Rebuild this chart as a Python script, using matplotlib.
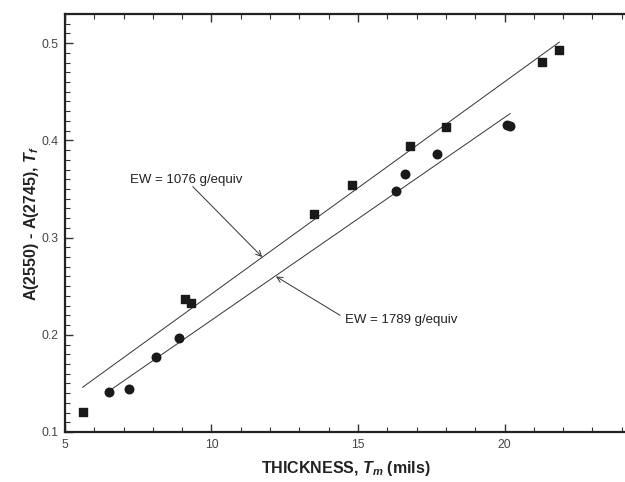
import matplotlib
matplotlib.use("Agg")
import matplotlib.pyplot as plt
from matplotlib.ticker import MultipleLocator

plt.rcParams["font.family"] = ["Liberation Sans", "DejaVu Sans"]
plt.rcParams["mathtext.fontset"] = "custom"
plt.rcParams["mathtext.it"] = "Liberation Sans:bold:italic"
plt.rcParams["mathtext.rm"] = "Liberation Sans:bold"

# ── data ──────────────────────────────────────────────────────────────────────
sq_x = [5.6, 9.1, 9.29, 13.5, 14.8, 16.78, 17.99, 21.28, 21.87]
sq_y = [0.121, 0.237, 0.233, 0.324, 0.354, 0.394, 0.414, 0.481, 0.493]

ci_x = [6.51, 7.19, 8.1, 8.9, 16.28, 16.59, 17.68, 20.1, 20.2]
ci_y = [0.141, 0.144, 0.177, 0.197, 0.348, 0.365, 0.386, 0.416, 0.415]

# fitted lines (end points)
fit1_x = [5.6, 21.87]
fit1_y = [0.146, 0.501]
fit2_x = [6.59, 20.19]
fit2_y = [0.144, 0.4275]

lab1 = "EW = 1076 g/equiv"
lab2 = "EW = 1789 g/equiv"

# ── figure ────────────────────────────────────────────────────────────────────
fig = plt.figure(figsize=(6.25, 4.82), dpi=100, facecolor="white")
ax = fig.add_axes([65 / 625, 50 / 482, 561 / 625, 418 / 482])

ax.plot(fit1_x, fit1_y, color="#333333", lw=0.7)
ax.plot(fit2_x, fit2_y, color="#333333", lw=0.7)
ax.scatter(sq_x, sq_y, marker="s", s=30, color="#1a1a1a", zorder=3)
ax.scatter(ci_x, ci_y, marker="o", s=38, color="#1a1a1a", zorder=3)

arrow = dict(arrowstyle="->", color="#333333", lw=0.7, shrinkA=0, shrinkB=0)
ax.annotate("", xy=(11.73, 0.280), xytext=(9.36, 0.3525), arrowprops=arrow)
ax.text(7.22, 0.359, lab1, fontsize=9.5, color="#222222", va="center", ha="left")
ax.annotate("", xy=(12.2, 0.260), xytext=(14.39, 0.220), arrowprops=arrow)
ax.text(14.56, 0.2155, lab2, fontsize=9.5, color="#222222", va="center", ha="left")

ax.set_xlim(5, 5 + 561 / 29.3)
ax.set_ylim(0.1, 0.53)
ax.xaxis.set_minor_locator(MultipleLocator(1))
ax.yaxis.set_minor_locator(MultipleLocator(0.01))
ax.set_xticks([5, 10, 15, 20])
ax.set_xticklabels(["5", "10", "15", "20"])
ax.set_yticks([0.1, 0.2, 0.3, 0.4, 0.5])
ax.set_yticklabels(["0.1", "0.2", "0.3", "0.4", "0.5"])

ax.tick_params(which="both", direction="in", top=True, right=False,
               labelsize=8.8, labelcolor="#444444", color="#333333")
ax.tick_params(which="major", length=6, width=1.0, pad=5)
ax.tick_params(which="minor", length=3.5, width=0.8)
for side in ["left", "bottom", "top"]:
    ax.spines[side].set_linewidth(1.6)
    ax.spines[side].set_color("#222222")
ax.spines["right"].set_visible(False)

ax.set_xlabel(r"THICKNESS, $T_m$ (mils)", fontsize=11.5, fontweight="bold",
              color="#222222", labelpad=6)
ax.set_ylabel(r"A(2550) - A(2745), $T_f$", fontsize=11.5, fontweight="bold",
              color="#222222", labelpad=0)

fig.savefig("out.png", dpi=100, facecolor="white")
